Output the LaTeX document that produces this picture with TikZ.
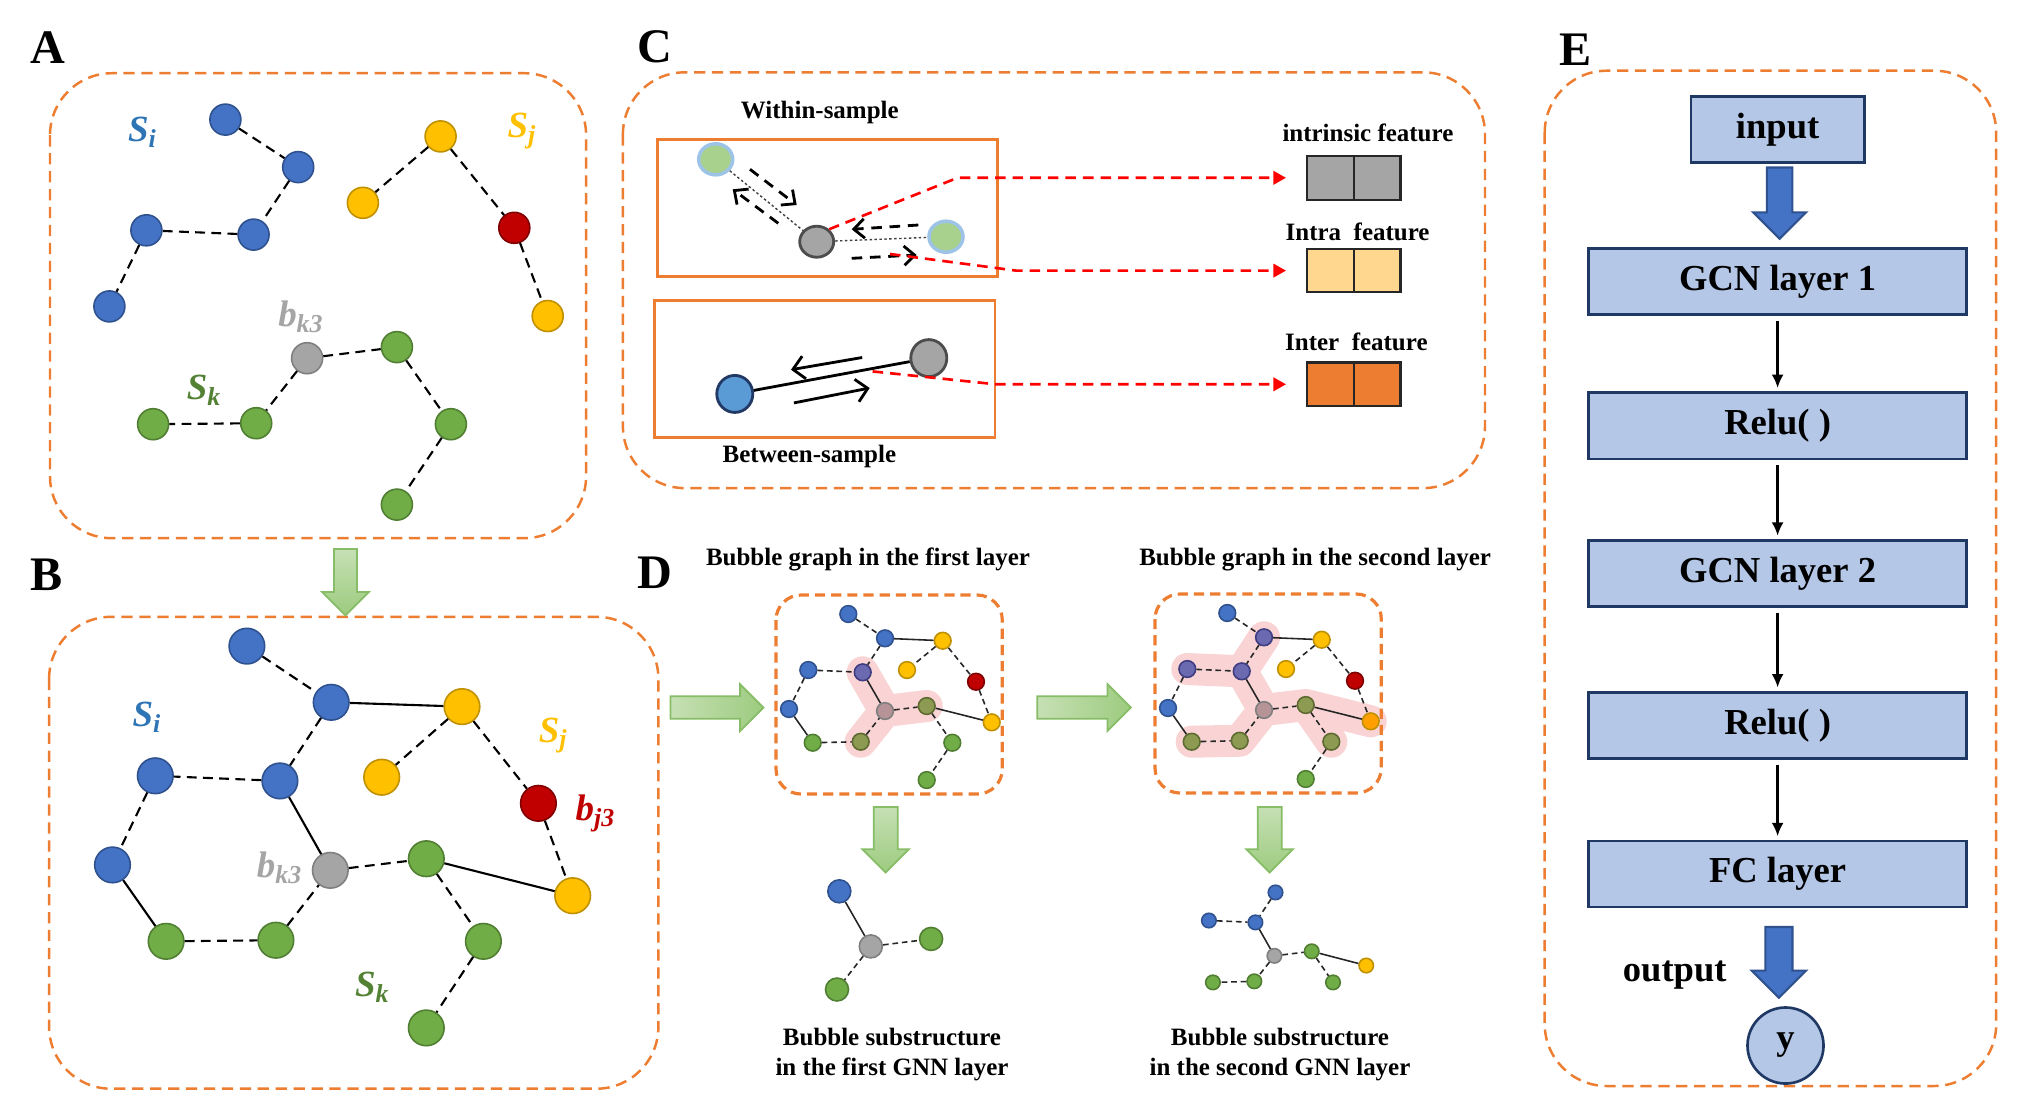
\documentclass[tikz,border=0pt]{standalone}
\usepackage{fontspec}
\setmainfont{Liberation Serif}
\usetikzlibrary{positioning,arrows.meta,shapes.geometric,backgrounds}

\definecolor{cblue}{HTML}{4472C4}
\definecolor{cblueD}{HTML}{2F528F}
\definecolor{cblue2}{HTML}{5B9BD5}
\definecolor{cyel}{HTML}{FFC000}
\definecolor{cyelD}{HTML}{BF9000}
\definecolor{cred}{HTML}{C00000}
\definecolor{credD}{HTML}{7F0000}
\definecolor{cgrn}{HTML}{70AD47}
\definecolor{cgrnD}{HTML}{507E32}
\definecolor{cgry}{HTML}{A5A5A5}
\definecolor{cgryD}{HTML}{7F7F7F}
\definecolor{corange}{HTML}{ED7D31}
\definecolor{cpur}{HTML}{6B69AF}
\definecolor{cpurD}{HTML}{3F3D80}
\definecolor{cmauve}{HTML}{B59396}
\definecolor{colive}{HTML}{8C9A52}
\definecolor{coliveD}{HTML}{5E6B30}
\definecolor{camber}{HTML}{FFA000}
\definecolor{cpink}{HTML}{FAD4D4}
\definecolor{clgreen}{HTML}{A9D18E}
\definecolor{clblue}{HTML}{9DC3E6}
\definecolor{cbox}{HTML}{B4C7E7}
\definecolor{cnavy}{HTML}{1F3864}
\definecolor{cfeat}{HTML}{FFD78E}
\definecolor{labblue}{HTML}{2E75B6}
\definecolor{labgreen}{HTML}{548235}
\definecolor{cgarrD}{HTML}{86BD66}
\definecolor{cga1}{HTML}{C6E0B4}
\definecolor{cga2}{HTML}{9DCB7F}

\tikzset{
  vtx/.style={circle, draw, inner sep=0pt, line width=0.45pt},
  bl/.style={vtx, fill=cblue, draw=cblueD},
  ye/.style={vtx, fill=cyel, draw=cyelD},
  rd/.style={vtx, fill=cred, draw=credD},
  gn/.style={vtx, fill=cgrn, draw=cgrnD},
  gy/.style={vtx, fill=cgry, draw=cgryD},
  pu/.style={vtx, fill=cpur, draw=cpurD},
  mv/.style={vtx, fill=cmauve, draw=cgryD},
  ol/.style={vtx, fill=colive, draw=coliveD},
  am/.style={vtx, fill=camber, draw=cyelD},
  se/.style={line width=0.6pt},
  de/.style={line width=0.6pt, dash pattern=on 2.8pt off 1.8pt},
  bs/.style={line width=0.45pt, black!85},
  bd/.style={bs, dash pattern=on 1.6pt off 1.1pt},
  panel/.style={draw=corange, line width=0.7pt, dash pattern=on 3.2pt off 1.9pt, rounded corners=0.62cm},
  minipanel/.style={draw=corange, line width=0.9pt, dash pattern=on 2.9pt off 1.7pt, rounded corners=0.25cm},
  letter/.style={font=\fontsize{13.7}{16}\selectfont\bfseries, inner sep=0pt},
  lab/.style={font=\fontsize{7.1}{8.55}\selectfont\bfseries, inner sep=0pt, align=center},
  setlab/.style={font=\fontsize{10.5}{12}\selectfont\bfseries\itshape, inner sep=0pt},
  obox/.style={draw=corange, line width=0.8pt, minimum width=3.404cm, minimum height=1.374cm, inner sep=0pt},
  fbox/.style={draw=black!85, line width=0.6pt, minimum width=0.467cm, minimum height=0.435cm, inner sep=0pt, outer sep=0pt},
  cgn/.style={ellipse, draw=clblue, fill=clgreen, line width=1pt, minimum width=0.34cm, minimum height=0.31cm, inner sep=0pt},
  cgy/.style={ellipse, draw=black!70, fill=cgry, line width=0.8pt, minimum width=0.34cm, minimum height=0.31cm, inner sep=0pt},
  cbl/.style={ellipse, draw=cblueD!70!black, fill=cblue2, line width=0.8pt, minimum width=0.36cm, minimum height=0.37cm, inner sep=0pt},
  dotl/.style={line width=0.4pt, black!75, dash pattern=on 0.7pt off 0.7pt},
  darr/.style={line width=0.8pt, dash pattern=on 3pt off 2.2pt, -{Straight Barb[length=3pt,width=5.5pt]}},
  sarr/.style={line width=0.8pt, -{Straight Barb[length=3.2pt,width=6.5pt]}},
  redarr/.style={draw=red, line width=0.75pt, dash pattern=on 3pt off 2pt, -{Triangle[length=3.6pt,width=3.8pt]}},
  ebox/.style={draw=cnavy, fill=cbox, line width=0.75pt, minimum width=3.78cm, minimum height=0.66cm, inner sep=0pt, font=\fontsize{10.4}{12.5}\selectfont\bfseries},
  elab/.style={font=\fontsize{10.4}{12.5}\selectfont\bfseries, inner sep=0pt},
  earr/.style={line width=0.65pt, -{Latex[length=3.8pt,width=3.4pt]}, shorten <=1.4pt, shorten >=1pt},
  barr/.style={draw=cblueD, fill=cblue, line width=0.6pt},
  garrH/.style={draw=cgarrD, line width=0.5pt, left color=cga1, right color=cga2},
  garrV/.style={draw=cgarrD, line width=0.5pt, top color=cga1, bottom color=cga2},
  hl/.style={draw=cpink, line width=0.32cm, line cap=round, line join=round},
}

% block arrows: style, tip, length, half shaft, half head
\newcommand{\rightblock}[5]{\path[#1] #2 -- ++(-#5,-#5) -- ++(0,#5-#4) -- ++(#5-#3,0) -- ++(0,2*#4) -- ++(#3-#5,0) -- ++(0,#5-#4) -- cycle;}
\newcommand{\downblock}[5]{\path[#1] #2 -- ++(-#5,-#5) -- ++(#5-#4,0) -- ++(0,#5-#3) -- ++(2*#4,0) -- ++(0,#3-#5) -- ++(#5-#4,0) -- cycle;}

% bubble graph of panel D, #1 = name prefix
\newcommand{\bubblegraph}[1]{%
  \foreach \i/\x/\y in {1/848.3/614, 2/885/638.3, 3/942.7/640.7, 4/808.3/670, 5/862.7/672.3,
      6/907/670, 7/976/681.7, 8/789/709, 9/885/711, 10/926.7/706, 11/991.7/722.3,
      12/812.7/742.7, 13/860.7/741.7, 14/952.3/742.7, 15/926.7/780}
    \node[c\i] (#1\i) at (\x,\y) {};
  \foreach \a/\b/\s in {1/2/bd, 2/3/bs, 2/5/bd, 4/5/bd, 4/8/bd, 8/12/bs, 12/13/bd, 13/9/bd,
      5/9/bs, 9/10/bd, 10/11/bs, 10/14/bd, 14/15/bd, 3/6/bd, 3/7/bd, 7/11/bd}
    \draw[\s] (#1\a) -- (#1\b);
}

\begin{document}
\begin{tikzpicture}[x=0.01cm, y=-0.01cm]
\useasboundingbox (0,0) rectangle (2036,1108);
\begin{pgfonlayer}{background}
  \fill[white] (0,0) rectangle (2036,1108);
\end{pgfonlayer}

% Panel letters
\node[letter] (lA) at (48.2,47.5) {A};
\node[letter] (lB) at (46.9,574.4) {B};
\node[letter] (lC) at (654.4,46.4) {C};
\node[letter] (lD) at (654.4,572.5) {D};
\node[letter] (lE) at (1575.9,49.5) {E};

% Frames
\draw[panel] (50,73.2) rectangle (586.1,538.2);
\draw[panel] (49.1,616.8) rectangle (658.4,1088.7);
\draw[panel] (622.9,72.3) rectangle (1485,488.1);
\draw[panel] (1544.7,70.7) rectangle (1996.2,1086);
\draw[minipanel] (776,595) rectangle (1002.3,794);
\draw[minipanel] (1155,594) rectangle (1381.3,793);

% A: three samples
\begin{scope}[vtx/.append style={minimum size=0.31cm}]
  \node[bl] (ab1) at (225.4,119.6) {};
  \node[bl] (ab2) at (298.2,167.1) {};
  \node[bl] (ab3) at (146.4,230.3) {};
  \node[bl] (ab4) at (253.6,234.6) {};
  \node[bl] (ab5) at (109.4,306.4) {};
  \node[ye] (ay1) at (440.6,136.4) {};
  \node[ye] (ay2) at (362.9,202.8) {};
  \node[rd] (ar1) at (514.3,227.8) {};
  \node[ye] (ay3) at (547.7,316) {};
  \node[gy] (ag0) at (307.1,358.2) {};
  \node[gn] (ag1) at (396.9,347.1) {};
  \node[gn] (ag2) at (256.2,423.2) {};
  \node[gn] (ag3) at (153.1,424.2) {};
  \node[gn] (ag4) at (450.9,424.2) {};
  \node[gn] (ag5) at (396.9,504.6) {};
  \foreach \a/\b in {ab1/ab2, ab2/ab4, ab4/ab3, ab3/ab5, ay1/ay2, ay1/ar1, ar1/ay3,
      ag0/ag1, ag0/ag2, ag2/ag3, ag1/ag4, ag4/ag5}
    \draw[de] (\a) -- (\b);
\end{scope}
\node[setlab, labblue] (aSi) at (142.8,132.1) {S\textsubscript{i}};
\node[setlab, cyel] (aSj) at (522.3,131.4) {S\textsubscript{j}};
\node[setlab, cgry] (abk) at (301.3,317.1) {b\textsubscript{k3}};
\node[setlab, labgreen] (aSk) at (204.5,390.3) {S\textsubscript{k}};

% A -> B
\downblock{garrV}{(345.5,615.3)}{66.3}{11.6}{23.2}

% B: bubble graph
\begin{scope}[vtx/.append style={minimum size=0.356cm}]
  \node[bl] (bb1) at (246.9,646.1) {};
  \node[bl] (bb2) at (331.2,702.3) {};
  \node[bl] (bb3) at (155.3,775.8) {};
  \node[bl] (bb4) at (279.9,780.9) {};
  \node[bl] (bb5) at (112.5,864.9) {};
  \node[ye] (by1) at (462,706.6) {};
  \node[ye] (by2) at (381.7,777.2) {};
  \node[rd] (br1) at (538.4,803.3) {};
  \node[ye] (by3) at (572.7,895.7) {};
  \node[gy] (bg0) at (330.3,870.3) {};
  \node[gn] (bg1) at (426.3,858.7) {};
  \node[gn] (bg2) at (166.1,941.3) {};
  \node[gn] (bg3) at (275.9,940.2) {};
  \node[gn] (bg4) at (483.4,941.3) {};
  \node[gn] (bg5) at (426.3,1027.9) {};
  \foreach \a/\b in {bb1/bb2, bb2/bb4, bb4/bb3, bb3/bb5, bg2/bg3, bg3/bg0, bg0/bg1,
      bg1/bg4, bg4/bg5, by1/by2, by1/br1, br1/by3}
    \draw[de] (\a) -- (\b);
  \foreach \a/\b in {bb2/by1, bb5/bg2, bb4/bg0, bg1/by3}
    \draw[se] (\a) -- (\b);
\end{scope}
\node[setlab, labblue] (bSi) at (147.3,717.5) {S\textsubscript{i}};
\node[setlab, cyel] (bSj) at (553.5,735.6) {S\textsubscript{j}};
\node[setlab, cred] (bbj) at (595.9,813.5) {b\textsubscript{j3}};
\node[setlab, cgry] (bbk) at (279.9,867.8) {b\textsubscript{k3}};
\node[setlab, labgreen] (bSk) at (372.7,987.3) {S\textsubscript{k}};

% C: within / between sample
\node[obox] (within) at (827.5,208) {};
\node[obox] (between) at (824.6,368.9) {};
\node[lab] (wlab) at (819.8,112.1) {Within-sample};
\node[lab] (blab) at (809.4,456.6) {Between-sample};
\node[cgn] (cw1) at (715.7,159.3) {};
\node[cgy] (cw0) at (816.7,241.7) {};
\node[cgn] (cw2) at (946,236.7) {};
\draw[dotl] (cw1) -- (cw0);
\draw[dotl] (cw0) -- (cw2);
\node[cbl] (cb1) at (734.8,393.9) {};
\node[cgy, minimum width=0.36cm, minimum height=0.37cm] (cb0) at (928.8,358.1) {};
\draw[line width=0.8pt] (cb1) -- (cb0);
\coordinate (k1) at (750,169.3);  \coordinate (k2) at (796.7,205);
\coordinate (k3) at (778.3,223.3); \coordinate (k4) at (732.7,189.3);
\coordinate (k5) at (918.3,225);  \coordinate (k6) at (851.7,229.3);
\coordinate (k7) at (851.7,258.3); \coordinate (k8) at (916.7,255);
\coordinate (k9) at (862.2,357.5); \coordinate (k10) at (791,369.7);
\coordinate (k11) at (793.9,402.9); \coordinate (k12) at (869.7,388);
\draw[darr] (k1) -- (k2);
\draw[darr] (k3) -- (k4);
\draw[darr] (k5) -- (k6);
\draw[darr] (k7) -- (k8);
\draw[sarr] (k9) -- (k10);
\draw[sarr] (k11) -- (k12);

% feature vectors
\node[fbox, fill=cgry] (fi1) at (1330.4,177.8) {};
\node[fbox, fill=cgry, right=0pt of fi1] (fi2) {};
\node[fbox, fill=cfeat] (fy1) at (1330.4,270.6) {};
\node[fbox, fill=cfeat, right=0pt of fy1] (fy2) {};
\node[fbox, fill=corange] (fo1) at (1330.4,384.3) {};
\node[fbox, fill=corange, right=0pt of fo1] (fo2) {};
\node[lab] (filab) at (1367.9,132.6) {intrinsic feature};
\node[lab] (fylab) at (1357.6,232.1) {Intra\ \ feature};
\node[lab] (folab) at (1356.4,341.5) {Inter\ \ feature};
\coordinate (rb1) at (957.5,174.3);
\coordinate (rs2) at (890,254);   \coordinate (rb2) at (1016.1,270.3);
\coordinate (rs3) at (872.6,371.4); \coordinate (rb3) at (996,388.6);
\draw[redarr, shorten >=0.21cm] (cw0.45) -- (rb1 |- fi1.west) -- (fi1.west);
\draw[redarr, shorten >=0.21cm] (rs2) -- (rb2 |- fy1.west) -- (fy1.west);
\draw[redarr, shorten >=0.21cm] (rs3) -- (rb3 |- fo1.west) -- (fo1.west);

% D: bubble graphs of the two layers
\node[lab] (dt1) at (868,559.4) {Bubble graph in the first layer};
\node[lab] (dt2) at (1315.1,559.4) {Bubble graph in the second layer};
\rightblock{garrH}{(763.5,707.5)}{93}{11.25}{23.4}
\rightblock{garrH}{(1130.9,707.5)}{93.6}{11.25}{23.4}
\downblock{garrV}{(885.7,872.5)}{65.6}{12}{23.2}
\downblock{garrV}{(1269.7,872.5)}{65.6}{12}{23.2}

\begin{scope}[vtx/.append style={minimum size=0.167cm},
    c1/.style=bl, c2/.style=bl, c3/.style=ye, c4/.style=bl, c5/.style=pu,
    c6/.style=ye, c7/.style=rd, c8/.style=bl, c9/.style=mv, c10/.style=ol,
    c11/.style=ye, c12/.style=gn, c13/.style=ol, c14/.style=gn, c15/.style=gn]
  \bubblegraph{ga}
\end{scope}
\begin{scope}[shift={(379,-1)}, vtx/.append style={minimum size=0.167cm},
    c1/.style=bl, c2/.style=pu, c3/.style=ye, c4/.style=pu, c5/.style=pu,
    c6/.style=ye, c7/.style=rd, c8/.style=bl, c9/.style=mv, c10/.style=ol,
    c11/.style=am, c12/.style=ol, c13/.style=ol, c14/.style=ol, c15/.style=gn]
  \bubblegraph{gb}
\end{scope}
\begin{pgfonlayer}{background}
  \draw[hl] (ga5.center) -- (ga9.center) -- (ga10.center) (ga9.center) -- (ga13.center);
  \draw[hl] (gb2.center) -- (gb5.center) -- (gb4.center) (gb5.center) -- (gb9.center)
    -- (gb10.center) -- (gb11.center) (gb10.center) -- (gb14.center)
    (gb9.center) -- (gb13.center) -- (gb12.center);
\end{pgfonlayer}

% substructures
\begin{scope}[vtx/.append style={minimum size=0.23cm}]
  \node[bl] (sa1) at (839.3,891.3) {};
  \node[gy] (sa0) at (870.8,946.4) {};
  \node[gn] (sa2) at (931.1,938.9) {};
  \node[gn] (sa3) at (837,989.5) {};
  \draw[bs] (sa1) -- (sa0);
  \draw[bd] (sa0) -- (sa2);
  \draw[bd] (sa0) -- (sa3);
\end{scope}
\begin{scope}[vtx/.append style={minimum size=0.145cm}]
  \node[bl] (sb1) at (1275.5,892.4) {};
  \node[bl] (sb2) at (1208.9,920.5) {};
  \node[bl] (sb3) at (1255.4,922.4) {};
  \node[gy] (sb0) at (1274.4,955.8) {};
  \node[gn] (sb4) at (1311.7,951.3) {};
  \node[ye] (sb5) at (1366.2,965.5) {};
  \node[gn] (sb6) at (1212.9,982.4) {};
  \node[gn] (sb7) at (1254.3,981.3) {};
  \node[gn] (sb8) at (1333,982.4) {};
  \foreach \a/\b/\s in {sb1/sb3/bd, sb2/sb3/bd, sb3/sb0/bs, sb0/sb4/bd, sb4/sb5/bs,
      sb4/sb8/bd, sb0/sb7/bd, sb7/sb6/bd}
    \draw[\s] (\a) -- (\b);
\end{scope}
\node[lab] (dc1) at (892,1054.4) {Bubble substructure\\in the first GNN layer};
\node[lab] (dc2) at (1280,1054.4) {Bubble substructure\\in the second GNN layer};

% E: network
\node[ebox] (gcn1) at (1777.6,281.6) {GCN layer 1};
\node[ebox, minimum width=1.734cm, above=0.835cm of gcn1] (inp) {input};
\node[ebox, below=0.755cm of gcn1] (relu1) {Relu( )};
\node[ebox, below=0.79cm of relu1] (gcn2) {GCN layer 2};
\node[ebox, below=0.83cm of gcn2] (relu2) {Relu( )};
\node[ebox, below=0.80cm of relu2] (fc) {FC layer};
\node[ebox, circle, minimum size=0.76cm, minimum width=0.76cm] (yout) at (1785.5,1045.5) {y};
\node[elab] (outl) at (1674.7,975.1) {output};
\draw[earr] (gcn1) -- (relu1);
\draw[earr] (relu1) -- (gcn2);
\draw[earr] (gcn2) -- (relu2);
\draw[earr] (relu2) -- (fc);
\downblock{barr}{(1779.6,238.8)}{71.3}{12.8}{26.5}
\downblock{barr}{(1778.9,997.7)}{70.7}{13.6}{27.1}

\end{tikzpicture}
\end{document}
